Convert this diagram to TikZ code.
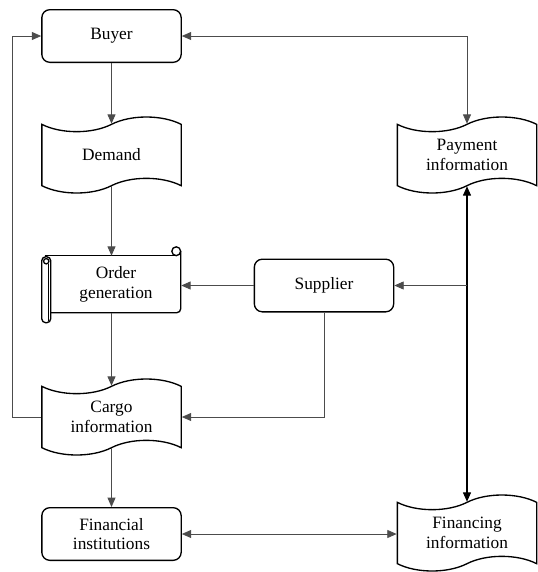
\documentclass[tikz,border=0pt]{standalone}
\usepackage{fontspec}
\setmainfont{Liberation Serif}
\usetikzlibrary{calc,positioning,arrows.meta,shapes.symbols}

\begin{document}
\begin{tikzpicture}[x=0.75pt,y=-0.75pt,
  txt/.style={align=center,font=\fontsize{13pt}{14.5pt}\selectfont},
  box/.style={txt,draw,line width=1pt,rounded corners=6pt,minimum width=104.5pt,minimum height=39.5pt},
  tp/.style={txt,draw,line width=1pt,tape,tape bend height=11pt,minimum width=104.5pt,minimum height=57pt},
  cn/.style={draw=black!70,line width=0.6pt},
  >={Triangle[length=7pt,width=6pt]}]
  \useasboundingbox (0,0) rectangle (537,572);

  \node[box] (buyer) at (111.5,36) {Buyer};
  \node[tp] (demand) at (111.5,155) {Demand};
  \node[txt,minimum width=97.5pt,minimum height=42.75pt,inner sep=0pt] (order) at (116,284.5) {Order\\generation};
  \node[box] (supplier) at (324,285.5) {Supplier};
  \node[tp] (payment) at (467,155) {Payment\\information};
  \node[tp] (cargo) at (111.5,417) {Cargo\\information};
  \node[box] (fin) at (111.5,534) {Financial\\institutions};
  \node[tp] (financing) at (467,533) {Financing\\information};

  % scroll outline of the order node
  \begin{scope}[shift={(order.north west)},line width=1pt]
    \draw (-6,0) -- (125.5,0);
    \draw (125.5,-4.5) circle[radius=3.3pt];
    \draw[rounded corners=3pt] (130,-4.5) -- (130,57) -- (0,57);
    \draw[rounded corners=3pt] (-9,1) rectangle (0,67);
    \draw (-4.5,5.5) circle[radius=2pt];
    \draw (-2.5,8) -- (-2.5,65);
  \end{scope}

  \coordinate (jn) at (payment.south |- supplier.east);
  \coordinate (lp) at ($(cargo.west)+(-29,0)$);

  \draw[cn,<->] (buyer.east) -| (payment.north);
  \draw[cn,->] (buyer.south) -- (demand.north);
  \draw[cn,->] (demand.south) -- (demand.south |- order.north);
  \draw[cn,->] (supplier.west) -- (supplier.west -| order.east);
  \draw[cn,->] (buyer |- order.south) -- (cargo.north);
  \draw[cn,->] (supplier.south) |- (cargo.east);
  \draw[cn,->] (cargo.west) -- (lp) |- (buyer.west);
  \draw[cn,->] (cargo.south) -- (fin.north);
  \draw[cn,<->] (fin.east) -- (fin.east -| financing.west);
  \draw[cn,draw=black,line width=0.8pt,<->] (payment.south) -- (financing.north);
  \draw[cn,->] (jn) -- (supplier.east);
\end{tikzpicture}
\end{document}
